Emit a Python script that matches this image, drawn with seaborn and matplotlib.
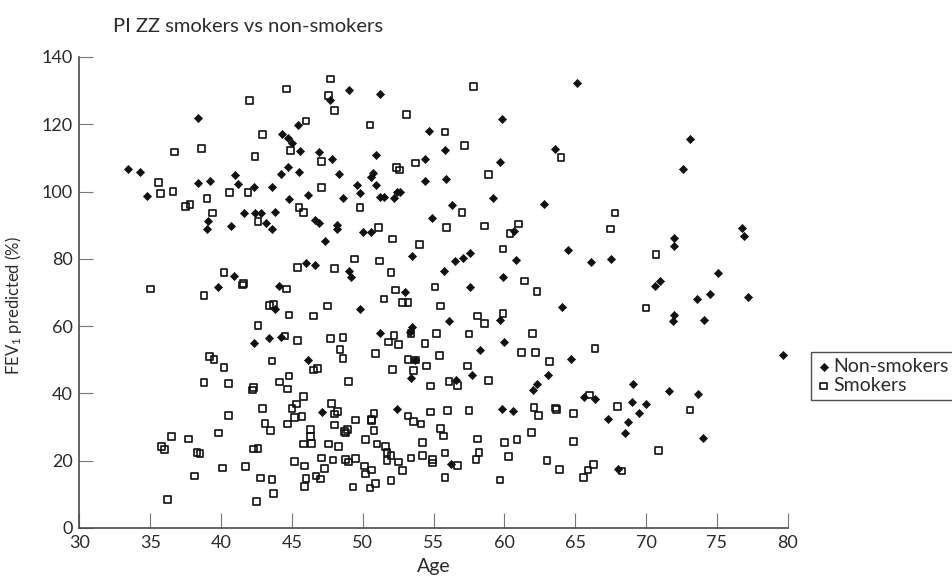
import matplotlib
matplotlib.use("Agg")
import matplotlib.pyplot as plt
import seaborn as sns
import pandas as pd

# PI ZZ: FEV1 % predicted against age, non-smokers vs smokers
nonsmoker_age = [
    47.7, 38.4, 45.4, 44.3, 44.7, 45.0, 45.6, 46.9, 47.8, 33.4, 34.3, 44.7,
    44.2, 45.5, 41.0, 38.4, 39.2, 41.2, 42.3, 43.6, 34.8, 44.8, 46.1, 41.6,
    42.4, 42.8, 43.8, 39.1, 39.0, 40.7, 43.2, 43.6, 46.6, 46.9, 48.2, 48.2,
    47.3, 46.0, 46.6, 40.9, 39.8, 44.1, 43.8, 42.3, 43.4, 44.2, 46.1, 47.1,
    49.0, 51.2, 59.8, 54.7, 55.8, 63.6, 50.9, 54.4, 59.7, 48.3, 50.6, 50.7,
    54.4, 55.9, 49.6, 49.8, 50.9, 48.6, 51.2, 51.5, 52.4, 52.6, 52.2, 59.2,
    62.8, 56.3, 54.9, 50.0, 50.6, 60.7, 53.5, 56.5, 57.1, 57.6, 60.8, 49.0,
    49.2, 55.7, 59.9, 53.0, 57.6, 64.1, 49.8, 56.1, 59.7, 51.2, 53.5, 53.3,
    60.0, 58.3, 53.7, 57.7, 63.1, 53.4, 56.6, 62.3, 62.0, 52.4, 59.8, 60.6,
    56.2, 65.1, 73.1, 72.6, 76.8, 76.9, 72.0, 72.0, 64.5, 66.1, 67.5, 75.1,
    70.6, 71.0, 74.5, 73.6, 77.2, 72.0, 71.9, 74.1, 64.7, 79.7, 69.1, 65.6,
    66.4, 69.0, 70.0, 69.5, 71.6, 73.7, 67.3, 68.7, 68.5, 74.0, 68.0,
]
nonsmoker_fev = [
    127.2, 121.9, 119.8, 117.0, 116.0, 114.4, 112.1, 111.9, 109.6, 106.7, 105.9, 107.3,
    105.1, 105.7, 105.0, 102.6, 103.2, 102.2, 101.5, 101.3, 98.8, 97.8, 99.1, 93.5,
    93.7, 93.7, 94.0, 91.3, 88.9, 89.7, 90.6, 89.0, 91.6, 90.6, 90.0, 89.0,
    85.4, 78.9, 78.1, 74.8, 71.6, 72.0, 65.0, 55.1, 56.4, 56.9, 49.9, 34.5,
    130.1, 129.1, 121.5, 117.9, 112.3, 112.7, 110.9, 109.8, 108.9, 105.2, 104.3, 105.6,
    103.1, 103.7, 101.9, 99.7, 102.0, 98.2, 98.3, 98.4, 100.0, 99.8, 98.0, 98.1,
    96.3, 96.1, 92.2, 88.1, 88.1, 88.3, 80.8, 79.4, 80.2, 81.8, 79.8, 76.4,
    74.7, 76.5, 74.7, 70.1, 71.7, 65.7, 65.0, 61.6, 61.9, 58.1, 59.8, 58.4,
    55.2, 52.9, 49.9, 45.6, 45.5, 44.6, 44.0, 42.8, 40.9, 35.5, 35.4, 34.8,
    19.1, 132.2, 115.7, 106.6, 89.3, 86.9, 86.1, 83.9, 82.7, 79.1, 79.9, 75.8,
    71.9, 73.3, 69.5, 68.0, 68.8, 63.2, 61.6, 61.9, 50.2, 51.5, 42.8, 38.9,
    38.3, 37.5, 36.9, 34.3, 40.7, 39.7, 32.5, 31.6, 28.3, 26.7, 17.5,
]
smoker_age = [
    47.7, 44.6, 47.6, 42.0, 48.0, 46.0, 42.9, 36.7, 38.6, 44.9, 47.1, 42.4,
    35.6, 47.1, 35.7, 36.6, 40.6, 41.9, 39.0, 37.5, 37.8, 45.5, 45.8, 39.4,
    42.6, 45.4, 48.0, 40.2, 41.5, 41.6, 35.0, 38.8, 44.6, 43.4, 43.7, 44.8,
    46.5, 47.5, 42.6, 44.5, 45.4, 47.7, 39.2, 39.5, 40.2, 43.6, 46.5, 46.8,
    44.8, 38.8, 40.5, 42.2, 42.3, 44.1, 44.7, 45.8, 42.9, 45.0, 45.3, 47.8,
    48.0, 40.5, 45.2, 45.7, 43.1, 43.5, 44.7, 46.3, 48.0, 39.8, 36.5, 37.7,
    35.8, 36.0, 46.3, 45.8, 46.4, 47.6, 38.3, 38.5, 42.3, 42.6, 45.2, 45.9,
    47.1, 47.9, 40.1, 41.7, 38.1, 42.8, 43.6, 47.3, 46.7, 47.0, 46.0, 45.9,
    43.7, 42.5, 36.2,
    57.8, 53.1, 50.5, 55.8, 57.2, 64.0, 52.4, 52.6, 53.7, 58.9, 49.8, 57.0,
    51.1, 55.9, 58.6, 61.0, 60.4, 52.1, 54.0, 59.9, 49.4, 51.2, 52.0, 61.4,
    52.3, 55.1, 62.3, 51.5, 52.8, 53.2, 55.5, 58.1, 58.6, 59.9, 52.2, 51.8,
    52.5, 53.4, 55.2, 54.4, 57.5, 62.0, 48.6, 48.4, 48.6, 50.9, 55.4, 61.2,
    62.2, 63.2, 53.2, 53.7, 54.5, 57.4, 52.1, 53.6, 49.0, 54.8, 56.1, 56.7,
    58.9, 48.2, 49.5, 50.8, 50.6, 50.6, 53.2, 53.6, 54.1, 54.8, 56.0, 57.5,
    62.1, 62.4, 63.6, 63.7, 48.7, 48.9, 48.8, 50.8, 55.5, 55.7, 61.9, 48.3,
    50.2, 51.0, 51.6, 51.7, 52.0, 51.7, 52.5, 52.8, 54.2, 58.1, 60.0, 60.9,
    48.8, 49.0, 49.5, 53.4, 54.2, 54.9, 54.9, 55.8, 56.7, 58.2, 58.0, 60.3,
    63.0, 63.9, 50.1, 50.6, 50.2, 55.8, 59.7, 49.3, 50.5, 50.9, 52.0,
    67.8, 67.5, 70.7, 70.0, 66.4, 66.0, 68.0, 64.9, 73.1, 64.9, 70.9, 66.3,
    65.9, 65.6, 68.3,
]
smoker_fev = [
    133.5, 130.5, 128.5, 127.1, 124.0, 121.0, 117.0, 111.8, 112.8, 112.2, 109.0, 110.4,
    102.6, 101.2, 99.5, 100.1, 99.7, 99.7, 97.9, 95.5, 96.1, 95.2, 93.8, 93.6,
    91.1, 77.4, 77.2, 76.0, 72.2, 72.7, 71.0, 69.2, 71.0, 66.1, 66.4, 63.3,
    63.0, 66.0, 60.1, 57.1, 55.8, 56.3, 50.9, 50.1, 47.8, 49.6, 47.0, 47.5,
    45.2, 43.3, 43.0, 41.0, 41.8, 43.4, 41.3, 39.0, 35.6, 35.6, 36.9, 37.1,
    33.9, 33.4, 32.9, 33.1, 31.0, 29.0, 30.9, 29.3, 30.6, 28.2, 27.1, 26.5,
    24.2, 23.4, 27.1, 25.0, 25.2, 25.0, 22.4, 22.1, 23.5, 23.6, 19.8, 18.4,
    20.8, 20.2, 17.8, 18.2, 15.5, 14.9, 14.4, 17.6, 15.5, 14.6, 14.7, 12.3,
    10.2, 7.8, 8.4,
    131.3, 123.0, 119.8, 117.7, 113.6, 110.1, 107.2, 106.4, 108.5, 105.1, 95.3, 93.8,
    89.4, 89.4, 89.8, 90.4, 87.6, 85.9, 84.3, 82.9, 80.0, 79.4, 75.9, 73.4,
    70.7, 71.6, 70.2, 68.1, 67.0, 67.0, 66.0, 63.0, 60.8, 63.8, 57.3, 55.3,
    54.6, 57.9, 57.9, 54.8, 57.7, 57.8, 56.6, 53.1, 50.4, 51.9, 51.2, 52.2,
    52.2, 49.4, 50.0, 49.9, 48.2, 48.2, 47.2, 46.9, 43.6, 42.2, 43.6, 42.3,
    43.8, 34.7, 32.1, 34.0, 32.3, 31.9, 33.3, 31.6, 30.9, 34.5, 34.9, 35.0,
    35.8, 33.4, 35.7, 35.3, 28.6, 29.3, 28.2, 29.0, 29.5, 27.3, 28.3, 24.2,
    26.4, 25.0, 24.2, 22.4, 21.6, 20.0, 19.6, 17.0, 25.4, 26.5, 25.4, 26.4,
    20.4, 19.6, 20.6, 20.8, 21.6, 20.4, 19.3, 22.3, 18.6, 22.4, 20.4, 21.2,
    20.1, 17.3, 18.4, 17.2, 16.0, 15.1, 14.3, 12.2, 11.9, 13.3, 14.2,
    93.6, 88.9, 81.2, 65.4, 53.4, 39.5, 36.1, 34.0, 35.1, 25.7, 23.1, 18.9,
    17.2, 15.0, 16.9,
]

x_ticks = [30, 35, 40, 45, 50, 55, 60, 65, 70, 75, 80]
y_ticks = [0, 20, 40, 60, 80, 100, 120, 140]

non = pd.DataFrame({"age": nonsmoker_age, "fev": nonsmoker_fev})
smk = pd.DataFrame({"age": smoker_age, "fev": smoker_fev})

sns.set_style("ticks")
plt.rcParams["font.family"] = ["Lato", "DejaVu Sans"]
plt.rcParams["mathtext.default"] = "regular"

ink = "#111111"
axis_col = "#4a4a4a"
text_col = "#2b2b2b"

fig = plt.figure(figsize=(9.52, 5.84), dpi=100)
ax = fig.add_axes([0.0835, 0.0959, 0.7439, 0.8065])

sns.scatterplot(data=non, x="age", y="fev", marker="D", s=17, color=ink,
                edgecolor=ink, linewidth=0.5, ax=ax, label="Non-smokers")
sns.scatterplot(data=smk, x="age", y="fev", marker="s", s=23, color=ink,
                facecolor="none", edgecolor=ink, linewidth=1.2, ax=ax,
                label="Smokers")

ax.set_xlim(30, 80)
ax.set_ylim(0, 140)
ax.set_xticks(x_ticks)
ax.set_yticks(y_ticks)
sns.despine(ax=ax)
for side in ("left", "bottom"):
    ax.spines[side].set_color(axis_col)
    ax.spines[side].set_linewidth(1.2)
ax.tick_params(axis="x", direction="in", length=11, width=0.8, color="#777777",
               labelsize=13, labelcolor=text_col, pad=5)
ax.tick_params(axis="y", direction="in", length=10, width=0.8, color="#777777",
               labelsize=13, labelcolor=text_col, pad=5)

ax.set_xlabel("Age", fontsize=14, color=text_col, labelpad=5)
ax.set_ylabel("FEV$_1$ predicted (%)", fontsize=12, color=text_col)
ax.yaxis.set_label_coords(-0.079, 0.473)

fig.text(113 / 952, 1 - 27 / 584, "PI ZZ smokers vs non-smokers",
         ha="left", va="center", fontsize=14.5, color=text_col)

handles, labels = ax.get_legend_handles_labels()
if ax.get_legend():
    ax.get_legend().remove()
leg = fig.legend(handles, labels, loc="upper left",
                 bbox_to_anchor=(811 / 952, 1 - 352 / 584),
                 bbox_transform=fig.transFigure, frameon=True, fancybox=False,
                 edgecolor="#222222", borderpad=0.3, borderaxespad=0,
                 handletextpad=0.15, handlelength=0.7, labelspacing=0.12,
                 fontsize=14)
leg.get_frame().set_linewidth(1.0)
for t in leg.get_texts():
    t.set_color(text_col)

fig.savefig("out.png", dpi=100)
